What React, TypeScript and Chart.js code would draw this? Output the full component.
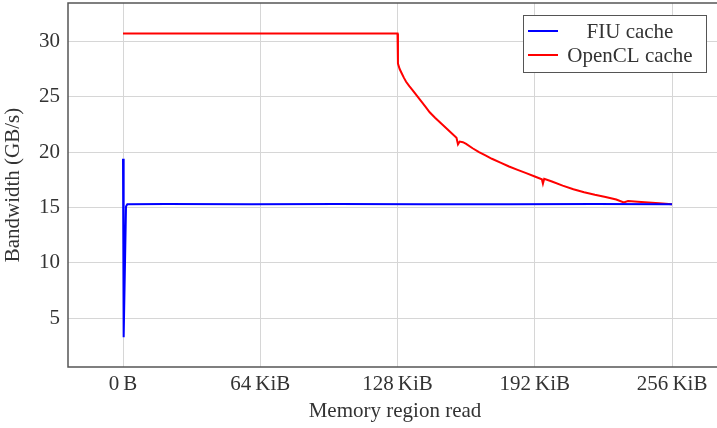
import React, { useEffect, useRef } from "react";
import { Chart, registerables } from "chart.js";

Chart.register(...registerables);

// x in KiB, y in GB/s
const fiuX = [0, 0.3, 1.4, 2, 20, 60, 100, 140, 180, 220, 256];
const fiuY = [19.4, 3.3, 15.1, 15.3, 15.32, 15.3, 15.31, 15.3, 15.3, 15.32, 15.3];

const oclX = [0, 128, 128.2, 129, 130, 131, 132, 133.5, 135, 137, 139, 141, 143, 145.5, 148, 150.5, 153, 155.5, 156.2, 157, 158.5, 160, 163, 166, 169, 172, 176, 180, 184, 188, 192, 195.3, 195.8, 196.4, 200, 205, 210, 215, 220, 225, 230, 233.5, 235.5, 240, 245, 250, 256];
const oclY = [30.7, 30.7, 28.0, 27.5, 27.1, 26.7, 26.35, 25.95, 25.6, 25.1, 24.6, 24.1, 23.6, 23.1, 22.65, 22.2, 21.75, 21.3, 20.7, 20.95, 20.9, 20.75, 20.35, 20.0, 19.7, 19.4, 19.05, 18.7, 18.4, 18.1, 17.8, 17.55, 17.15, 17.6, 17.35, 16.98, 16.65, 16.38, 16.15, 15.95, 15.72, 15.45, 15.58, 15.52, 15.45, 15.38, 15.3];

const xTickValues = [0, 64, 128, 192, 256];
const xTickLabels = ["0\u2009B", "64\u2009KiB", "128\u2009KiB", "192\u2009KiB", "256\u2009KiB"];
const yTickValues = [5, 10, 15, 20, 25, 30];

const seriesNames = ["FIU cache", "OpenCL cache"];
const seriesColors = ["#0000ff", "#ff0000"];

const FONT = "'Liberation Serif', 'DejaVu Serif', serif";
const FS = 21;
const TEXT = "#333333";

export default function App() {
  const ref = useRef<HTMLCanvasElement>(null);
  useEffect(() => {
    const canvas = ref.current!;
    const frame = {
      id: "frameLegend",
      afterDraw(chart: any) {
        const { ctx, chartArea } = chart;
        ctx.save();
        ctx.strokeStyle = "#555555";
        ctx.lineWidth = 1.5;
        ctx.beginPath();
        ctx.moveTo(chartArea.right, chartArea.top);
        ctx.lineTo(chartArea.left, chartArea.top);
        ctx.lineTo(chartArea.left, chartArea.bottom);
        ctx.lineTo(chartArea.right, chartArea.bottom);
        ctx.stroke();
        // legend
        const bx = 523, by = 15, bw = 183, bh = 57;
        ctx.fillStyle = "#ffffff";
        ctx.fillRect(bx, by, bw, bh);
        ctx.strokeStyle = "#555555";
        ctx.lineWidth = 1;
        ctx.strokeRect(bx + 0.5, by + 0.5, bw, bh);
        const rows = [31, 55];
        ctx.font = `${FS}px ${FONT}`;
        ctx.textAlign = "center";
        ctx.textBaseline = "middle";
        seriesNames.forEach((n, i) => {
          ctx.strokeStyle = seriesColors[i];
          ctx.lineWidth = 2;
          ctx.beginPath();
          ctx.moveTo(528, rows[i]);
          ctx.lineTo(558, rows[i]);
          ctx.stroke();
          ctx.fillStyle = TEXT;
          ctx.fillText(n, 630, rows[i] + 1);
        });
        ctx.restore();
      },
    };
    const chart = new Chart(canvas, {
      type: "line",
      data: {
        datasets: [
          {
            label: seriesNames[0],
            data: fiuX.map((x, i) => ({ x, y: fiuY[i] })),
            borderColor: seriesColors[0],
            borderWidth: 2,
            pointRadius: 0,
            tension: 0,
          },
          {
            label: seriesNames[1],
            data: oclX.map((x, i) => ({ x, y: oclY[i] })),
            borderColor: seriesColors[1],
            borderWidth: 2,
            pointRadius: 0,
            tension: 0,
          },
        ],
      },
      options: {
        animation: false,
        responsive: false,
        devicePixelRatio: 1,
        layout: { padding: { top: 3, right: 0, left: 0, bottom: 0 } },
        plugins: { legend: { display: false }, tooltip: { enabled: false } },
        scales: {
          x: {
            type: "linear",
            min: -25.65,
            max: 279.3,
            afterBuildTicks: (s: any) => {
              s.ticks = xTickValues.map((v) => ({ value: v }));
            },
            afterFit: (s: any) => {
              s.height = 61;
              s.paddingLeft = 0;
              s.paddingRight = 0;
            },
            ticks: {
              autoSkip: false,
              maxRotation: 0,
              padding: 5,
              color: TEXT,
              font: { family: FONT, size: FS },
              callback: (v: any) => {
                const i = xTickValues.indexOf(Number(v));
                return i >= 0 ? xTickLabels[i] : "";
              },
            },
            grid: { color: "#d6d6d6", lineWidth: 1, drawTicks: false },
            border: { display: false },
            title: {
              display: true,
              text: "Memory region read",
              color: TEXT,
              font: { family: FONT, size: FS },
              padding: { top: 0, bottom: 4 },
            },
          },
          y: {
            type: "linear",
            min: 0.605,
            max: 33.46,
            afterBuildTicks: (s: any) => {
              s.ticks = yTickValues.map((v) => ({ value: v }));
            },
            afterFit: (s: any) => {
              s.width = 68;
              s.paddingTop = 0;
              s.paddingBottom = 0;
            },
            ticks: {
              padding: 8,
              color: TEXT,
              font: { family: FONT, size: FS },
            },
            grid: { color: "#d6d6d6", lineWidth: 1, drawTicks: false },
            border: { display: false },
            title: {
              display: true,
              text: "Bandwidth (GB/s)",
              color: TEXT,
              font: { family: FONT, size: FS },
              padding: { top: 1, bottom: 0 },
            },
          },
        },
      },
      plugins: [frame],
    } as any);
    return () => chart.destroy();
  }, []);
  return (
    <div style={{ position: "fixed", left: 0, top: 0, width: 717, height: 428, overflow: "hidden", background: "#fff" }}>
      <canvas ref={ref} width={722} height={428} style={{ display: "block" }} />
    </div>
  );
}
